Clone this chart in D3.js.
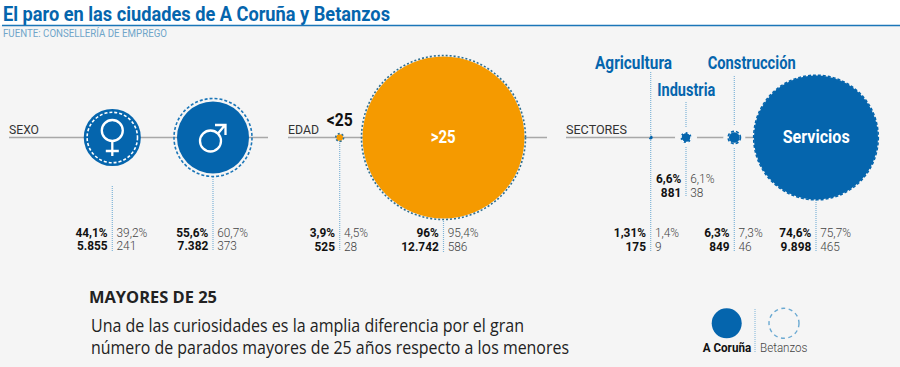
<!DOCTYPE html>
<html>
<head>
<meta charset="utf-8">
<script src="https://cdn.jsdelivr.net/npm/d3@7"></script>
<style>
  html, body { margin: 0; padding: 0; background: #f5f5f5; }
  text { font-family: "Roboto", sans-serif; }
  text.note { font-family: "Open Sans", sans-serif; }
</style>
</head>
<body>
<div id="chart"></div>
<script>
// data
const sexLabels = ['Mujeres', 'Hombres'];
const sexCoruna = [5855, 7382];
const sexBetanzos = [241, 373];
const sexCorunaPct = ['44,1%', '55,6%'];
const sexBetanzosPct = ['39,2%', '60,7%'];

const ageLabels = ['<25', '>25'];
const ageCoruna = [525, 12742];
const ageBetanzos = [28, 586];
const ageCorunaPct = ['3,9%', '96%'];
const ageBetanzosPct = ['4,5%', '95,4%'];

const sectorLabels = ['Agricultura', 'Industria', 'Construcción', 'Servicios'];
const sectorCoruna = [175, 881, 849, 9898];
const sectorBetanzos = [9, 38, 46, 465];
const sectorCorunaPct = ['1,31%', '6,6%', '6,3%', '74,6%'];
const sectorBetanzosPct = ['1,4%', '6,1%', '7,3%', '75,7%'];

const fmt = d3.format(',');
const esNum = v => fmt(v).replace(/,/g, '.');

const blue = '#0565ad';
const orange = '#f59a00';
const bg = '#f5f5f5';
const w = 900, h = 367, axisY = 137.5;

const svg = d3.select('#chart').append('svg')
    .attr('width', w)
    .attr('height', h)
    .style('display', 'block');

svg.append('rect').attr('width', w).attr('height', h).attr('fill', bg);
svg.append('rect').attr('width', w).attr('height', 25).attr('fill', '#fff');

// fits a text to a width measured on the picture
function label(parent, x, y, str, opts) {
    const t = parent.append('text')
        .attr('x', x)
        .attr('y', y)
        .attr('font-size', opts.size)
        .attr('font-weight', opts.weight || 400)
        .attr('fill', opts.fill || '#222')
        .attr('text-anchor', opts.anchor || 'start')
        .text(str);
    if (opts.cls) t.classed(opts.cls, true);
    if (opts.len) t.attr('textLength', opts.len).attr('lengthAdjust', 'spacingAndGlyphs');
    return t;
}

// condensed text for the numbers, the original face is narrower than Roboto
function condensed(x, y, str, opts) {
    svg.append('text')
        .attr('transform', `translate(${x},${y}) scale(0.88,1)`)
        .attr('font-size', 13.5)
        .attr('font-weight', opts.weight)
        .attr('fill', opts.fill)
        .attr('text-anchor', opts.anchor || 'start')
        .text(str);
}

// header
label(svg, 3, 20.5, 'El paro en las ciudades de A Coruña y Betanzos', {size: 20, weight: 700, fill: blue, len: 387});
svg.append('line').attr('x1', 2).attr('x2', w).attr('y1', 25.5).attr('y2', 25.5)
    .attr('stroke', '#1b76b8').attr('stroke-width', 1.5);
label(svg, 3, 37, 'FUENTE: CONSELLERÍA DE EMPREGO', {size: 11, fill: '#6fa5c9', len: 164});

// base lines of each group
const groupLines = [[9, 268, 'SEXO', 30], [288, 547, 'EDAD', 31], [566, 754, 'SECTORES', 61]];
svg.selectAll('.base')
    .data(groupLines)
    .join('line')
    .attr('class', 'base')
    .attr('x1', d => d[0]).attr('x2', d => d[1])
    .attr('y1', axisY).attr('y2', axisY)
    .attr('stroke', '#a8a8a8').attr('stroke-width', 1.5);
groupLines.forEach(d => {
    label(svg, d[0], 134.3, d[2], {size: 13, fill: '#333', len: d[3]});
});

// radius scales, every group has its own
const rSexC = d3.scaleLinear().domain([0, d3.max(sexCoruna)]).range([0, 36]);
const rSexB = d3.scaleLinear().domain([0, d3.max(sexBetanzos)]).range([0, 39]);
const rAgeC = d3.scaleLinear().domain([0, d3.max(ageCoruna)]).range([0, 81]);
const rAgeB = d3.scaleLinear().domain([0, d3.max(ageBetanzos)]).range([0, 82]);
const rSecC = d3.scaleLinear().domain([0, d3.max(sectorCoruna)]).range([0, 62]);
const rSecB = d3.scaleLinear().domain([0, d3.max(sectorBetanzos)]).range([0, 62.3]);

// horizontal position of each bubble, by group
const xSex = d3.scalePoint().domain(sexLabels).range([112.3, 213]);
const xAge = d3.scaleOrdinal().domain(ageLabels).range([339.7, 443.5]);
const xSec = d3.scaleOrdinal().domain(sectorLabels).range([650.7, 686, 734.3, 816]);

function rows(labels, cor, bet, corPct, betPct, rc, rb, x) {
    return labels.map((name, i) => ({
        name, cx: x(name), c: cor[i], b: bet[i], cp: corPct[i], bp: betPct[i],
        rc: rc(cor[i]), rb: rb(bet[i])
    }));
}

const sexRows = rows(sexLabels, sexCoruna, sexBetanzos, sexCorunaPct, sexBetanzosPct, rSexC, rSexB, xSex);
const ageRows = rows(ageLabels, ageCoruna, ageBetanzos, ageCorunaPct, ageBetanzosPct, rAgeC, rAgeB, xAge);
const secRows = rows(sectorLabels, sectorCoruna, sectorBetanzos, sectorCorunaPct, sectorBetanzosPct, rSecC, rSecB, xSec);

// gaps in the base line around the two small sectors
svg.selectAll('.gap')
    .data(secRows.slice(1, 3))
    .join('circle')
    .attr('class', 'gap')
    .attr('cx', d => d.cx).attr('cy', axisY)
    .attr('r', 11)
    .attr('fill', bg);

// dotted leaders: [x, top, bottom]
const leaders = [
    [xSex('Mujeres'), 186, 251], [xSex('Hombres'), 177, 251],
    [xAge('<25'), 141, 251], [xAge('>25'), 221, 252],
    [xSec('Agricultura'), 72, 252], [xSec('Industria'), 102, 128],
    [xSec('Industria'), 147, 197], [xSec('Construcción'), 76, 125],
    [xSec('Construcción'), 148, 252], [xSec('Servicios'), 200, 252]
];
svg.selectAll('.leader')
    .data(leaders)
    .join('line')
    .attr('class', 'leader')
    .attr('x1', d => d[0]).attr('x2', d => d[0])
    .attr('y1', d => d[1]).attr('y2', d => d[2])
    .attr('stroke', '#7fb4d8').attr('stroke-width', 1.2)
    .attr('stroke-dasharray', '1 1');

function bubbles(data, fill, dashColor, dash) {
    const g = svg.append('g');
    g.selectAll('.cor')
        .data(data)
        .join('circle')
        .attr('class', 'cor')
        .attr('cx', d => d.cx).attr('cy', axisY)
        .attr('r', d => d.rc)
        .attr('fill', fill);
    g.selectAll('.bet')
        .data(data)
        .join('circle')
        .attr('class', 'bet')
        .attr('cx', d => d.cx).attr('cy', axisY)
        .attr('r', d => d.rb)
        .attr('fill', 'none')
        .attr('stroke', d => d.rb < d.rc ? '#fff' : dashColor)
        .attr('stroke-width', 1.6)
        .attr('stroke-dasharray', dash);
}

bubbles(sexRows, blue, '#1b76b8', '3 2');
bubbles(ageRows, orange, '#2f6f90', '2 2');
bubbles(secRows, blue, blue, '3 2');

// gender symbols
const sym = svg.append('g').attr('fill', 'none').attr('stroke', '#fff').attr('stroke-width', 2.3);
const fx = xSex('Mujeres'), mx = xSex('Hombres');
sym.append('circle').attr('cx', fx).attr('cy', axisY - 7).attr('r', 10.5);
sym.append('path').attr('d', `M${fx},${axisY + 3.5}V${axisY + 18.5}M${fx - 6.5},${axisY + 13.5}H${fx + 6.5}`);
sym.append('circle').attr('cx', mx - 2.5).attr('cy', axisY + 3.5).attr('r', 10.5);
sym.append('path').attr('d', `M${mx + 5},${axisY - 4}L${mx + 12},${axisY - 12.5}M${mx + 2},${axisY - 12.5}H${mx + 12.5}V${axisY - 2.5}`);

// bubble names
label(svg, 326.7, 126, '<25', {size: 18, weight: 700, fill: '#111', len: 26});
label(svg, 430.7, 142.7, '>25', {size: 18, weight: 700, fill: '#fff', len: 25});
label(svg, 782.7, 142.7, 'Servicios', {size: 18, weight: 700, fill: '#fff', len: 67});
label(svg, 595, 69.3, 'Agricultura', {size: 18, weight: 700, fill: blue, len: 77});
label(svg, 657.3, 96, 'Industria', {size: 18, weight: 700, fill: blue, len: 58});
label(svg, 707.7, 69.3, 'Construcción', {size: 18, weight: 700, fill: blue, len: 88});

// value pairs under each bubble
function values(d, top) {
    condensed(d.cx - 4.7, top, d.cp, {weight: 700, anchor: 'end', fill: '#111'});
    condensed(d.cx - 4.7, top + 13.5, esNum(d.c), {weight: 700, anchor: 'end', fill: '#111'});
    condensed(d.cx + 4.2, top, d.bp, {weight: 300, fill: '#444'});
    condensed(d.cx + 4.2, top + 13.5, esNum(d.b), {weight: 300, fill: '#444'});
}
sexRows.forEach(d => values(d, 236.5));
ageRows.forEach(d => values(d, 237.2));
secRows.forEach((d, i) => values(d, i === 1 ? 183.2 : 237.2));

// note
label(svg, 89, 303, 'MAYORES DE 25', {size: 16, weight: 700, fill: '#222', len: 128, cls: 'note'});
label(svg, 91, 332, 'Una de las curiosidades es la amplia diferencia por el gran', {size: 17.5, fill: '#222', len: 433, cls: 'note'});
label(svg, 91, 354, 'número de parados mayores de 25 años respecto a los menores', {size: 17.5, fill: '#222', len: 478, cls: 'note'});

// legend
svg.append('circle').attr('cx', 726.7).attr('cy', 323.3).attr('r', 15).attr('fill', blue);
svg.append('circle').attr('cx', 784).attr('cy', 323.3).attr('r', 15).attr('fill', 'none')
    .attr('stroke', '#6aa9d2').attr('stroke-width', 1.4).attr('stroke-dasharray', '4 3.5');
svg.append('line').attr('x1', 755).attr('x2', 755).attr('y1', 309).attr('y2', 353)
    .attr('stroke', '#7fb4d8').attr('stroke-dasharray', '1 1');
label(svg, 702.7, 351.7, 'A Coruña', {size: 13.5, weight: 700, fill: '#111', len: 48.5});
label(svg, 760, 351.7, 'Betanzos', {size: 13.5, weight: 300, fill: '#444', len: 47.5});
</script>
</body>
</html>
